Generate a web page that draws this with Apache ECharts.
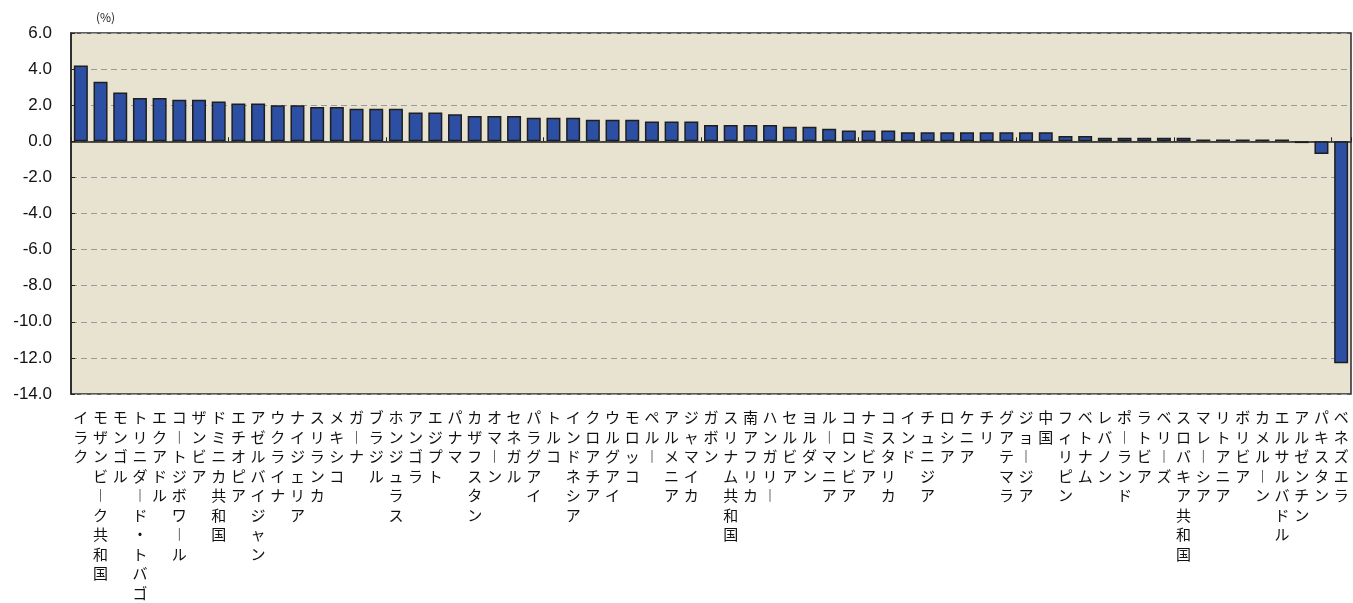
<!DOCTYPE html>
<html>
<head>
<meta charset="utf-8">
<script src="https://cdn.jsdelivr.net/npm/echarts@6/dist/echarts.min.js"></script>
<style>
html,body{margin:0;padding:0;background:#fff;}
#main{width:1353px;height:603px;}
</style>
</head>
<body>
<div id="main"></div>
<script>
const categories = [
  'イラク','モザンビーク共和国','モンゴル','トリニダード・トバゴ','エクアドル',
  'コートジボワール','ザンビア','ドミニカ共和国','エチオピア','アゼルバイジャン',
  'ウクライナ','ナイジェリア','スリランカ','メキシコ','ガーナ',
  'ブラジル','ホンジュラス','アンゴラ','エジプト','パナマ',
  'カザフスタン','オマーン','セネガル','パラグアイ','トルコ',
  'インドネシア','クロアチア','ウルグアイ','モロッコ','ペルー',
  'アルメニア','ジャマイカ','ガボン','スリナム共和国','南アフリカ',
  'ハンガリー','セルビア','ヨルダン','ルーマニア','コロンビア',
  'ナミビア','コスタリカ','インド','チュニジア','ロシア',
  'ケニア','チリ','グアテマラ','ジョージア','中国',
  'フィリピン','ベトナム','レバノン','ポーランド','ラトビア',
  'ベリーズ','スロバキア共和国','マレーシア','リトアニア','ボリビア',
  'カメルーン','エルサルバドル','アルゼンチン','パキスタン','ベネズエラ'
];
const values = [
  4.2, 3.3, 2.7, 2.4, 2.4,
  2.3, 2.3, 2.2, 2.1, 2.1,
  2.0, 2.0, 1.9, 1.9, 1.8,
  1.8, 1.8, 1.6, 1.6, 1.5,
  1.4, 1.4, 1.4, 1.3, 1.3,
  1.3, 1.2, 1.2, 1.2, 1.1,
  1.1, 1.1, 0.9, 0.9, 0.9,
  0.9, 0.8, 0.8, 0.7, 0.6,
  0.6, 0.6, 0.5, 0.5, 0.5,
  0.5, 0.5, 0.5, 0.5, 0.5,
  0.3, 0.3, 0.2, 0.2, 0.2,
  0.2, 0.2, 0.1, 0.1, 0.1,
  0.1, 0.1, -0.1, -0.7, -12.3
];
const yMin = -14, yMax = 6, yStep = 2;
const unitLabel = '(%)';

const chart = echarts.init(document.getElementById('main'), null, {renderer: 'canvas'});
const verticalText = s => s.split('').map(c => c === 'ー' ? '︱' : c).join('\n');

chart.setOption({
  animation: false,
  backgroundColor: '#ffffff',
  graphic: [{
    type: 'text', left: 96, top: 11,
    style: {text: unitLabel, font: '12px "Noto Sans CJK JP", sans-serif', fill: '#222'}
  }],
  grid: {
    left: 71, right: 2, top: 33, bottom: 205,
    show: true, backgroundColor: '#E8E3D0', borderColor: '#2a2a2a', borderWidth: 1.5
  },
  xAxis: [{
    type: 'category', data: categories, position: 'bottom',
    axisLine: {onZero: true, lineStyle: {color: '#222', width: 1.5}},
    axisTick: {show: true, inside: true, length: 4, lineStyle: {color: '#222', width: 1}},
    axisLabel: {show: false}
  }, {
    type: 'category', data: categories, position: 'bottom',
    axisLine: {show: false, onZero: false},
    axisTick: {show: false},
    axisLabel: {
      interval: 0, margin: 14, verticalAlign: 'top',
      formatter: verticalText,
      fontFamily: '"Noto Sans CJK JP", sans-serif', fontSize: 15, lineHeight: 19.5, color: '#111'
    }
  }],
  yAxis: {
    type: 'value', min: yMin, max: yMax, interval: yStep,
    axisLine: {show: true, lineStyle: {color: '#222', width: 1.5}},
    axisTick: {show: true, inside: true, length: 4, lineStyle: {color: '#222'}},
    axisLabel: {
      formatter: v => v.toFixed(1), margin: 19,
      fontFamily: '"Liberation Sans", Arial, sans-serif', fontSize: 17, color: '#111'
    },
    splitLine: {show: true, lineStyle: {color: '#9a9a9a', type: [6, 4], width: 1}}
  },
  series: [{
    type: 'bar', data: values, xAxisIndex: 0, barWidth: 14,
    itemStyle: {color: '#2C4FA3', borderColor: '#1e1e1e', borderWidth: 1.5}
  }]
});
</script>
</body>
</html>
